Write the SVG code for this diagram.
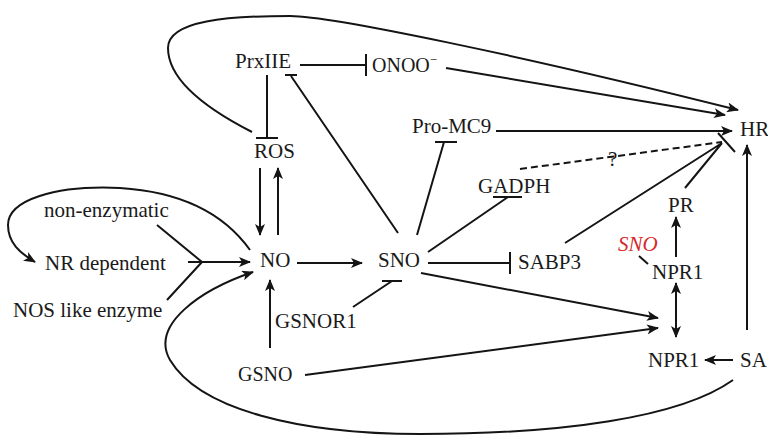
<svg xmlns="http://www.w3.org/2000/svg" width="768" height="437" viewBox="0 0 768 437">
<style>
text{font-family:"Liberation Serif","Times New Roman",serif;font-size:21px;fill:#1a1a1a}
.c{fill:none;stroke:#141414;stroke-width:2}
.a{marker-end:url(#arr)}
.i{marker-end:url(#bar)}
.d{stroke-dasharray:7 4}
</style>
<defs>
<marker id="arr" viewBox="0 0 12 10" refX="11" refY="5" markerWidth="12" markerHeight="10" orient="auto-start-reverse" markerUnits="userSpaceOnUse">
<path d="M0,0 L12,5 L0,10 L3,5 z" fill="#141414"/>
</marker>
<marker id="bar" viewBox="0 0 4 22" refX="2" refY="11" markerWidth="4" markerHeight="22" orient="auto" markerUnits="userSpaceOnUse">
<line x1="2" y1="0" x2="2" y2="22" stroke="#141414" stroke-width="2"/>
</marker>
</defs>
<rect width="768" height="437" fill="#fff"/>
<g id="connectors">
<path class="c a" d="M252,132 C205,108 168,80 168,48 C168,20 230,16 290,16 C330,16 520,55 738,110"/>
<path class="c i" d="M300,65 L366,65"/>
<path class="c i" d="M267,75 L267,138"/>
<path class="c" d="M398,233 L291,76 M285,75 L297,75"/>
<path class="c a" d="M446,68 L725,115"/>
<path class="c a" d="M496,131 L732,131"/>
<path class="c" d="M417,235 L444,142 M435,142 L457,142"/>
<path class="c" d="M428,252 L508,197 M493,197 L522,197"/>
<path class="c d" d="M520,169 L722,142"/>
<path class="c" d="M565,243 L722,143 M685,188 L722,143 M718,133 L735,152"/>
<path class="c i" d="M428,263 L510,263"/>
<path class="c a" d="M421,273 L658,318"/>
<path class="c a" d="M305,375 L658,328"/>
<path class="c a" d="M676,283 L676,337" marker-start="url(#arr)"/>
<path class="c a" d="M676,257 L676,217"/>
<path class="c" d="M639,256 L648,264"/>
<path class="c a" d="M747,330 L747,145"/>
<path class="c a" d="M733,360 L705,360"/>
<path class="c a" d="M733,380 C680,418 560,434 420,434 C300,434 200,410 170,360 C150,325 200,290 253,272"/>
<path class="c a" d="M297,263 L362,263"/>
<path class="c" d="M353,307 L392,281 M382,281 L402,281"/>
<path class="c a" d="M270,348 L270,280"/>
<path class="c a" d="M260,168 L260,235"/>
<path class="c a" d="M278,235 L278,168"/>
<path class="c a" d="M250,250 C225,215 185,192 120,188 C55,185 8,200 8,225 C8,243 20,253 35,262"/>
<path class="c" d="M157,225 L202,262 M188,262 L202,262 M167,300 L202,262"/>
<path class="c a" d="M202,262 L250,262"/>
</g>
<g id="PrxIIE"><text x="235" y="68">PrxIIE</text></g>
<g id="ONOO"><text x="372" y="72" style="font-size:20px">ONOO<tspan dy="-8" style="font-size:13px">−</tspan></text></g>
<g id="ProMC9"><text x="412" y="133">Pro-MC9</text></g>
<g id="HR"><text x="740" y="136">HR</text></g>
<g id="ROS"><text x="254" y="158">ROS</text></g>
<g id="GADPH"><text x="478" y="193">GADPH</text></g>
<g id="question"><text x="608" y="166">?</text></g>
<g id="PR"><text x="668" y="212">PR</text></g>
<g id="nonenzymatic"><text x="44" y="217">non-enzymatic</text></g>
<g id="NRdependent"><text x="45" y="270">NR dependent</text></g>
<g id="NOSlike"><text x="13" y="317">NOS like enzyme</text></g>
<g id="NO"><text x="260" y="267">NO</text></g>
<g id="SNO"><text x="378" y="267">SNO</text></g>
<g id="SABP3"><text x="518" y="269">SABP3</text></g>
<g id="SNOred"><text x="618" y="251" style="fill:#d42a2a;font-style:italic">SNO</text></g>
<g id="NPR1a"><text x="652" y="279">NPR1</text></g>
<g id="GSNOR1"><text x="275" y="328">GSNOR1</text></g>
<g id="GSNO"><text x="238" y="381" style="font-size:20px">GSNO</text></g>
<g id="NPR1b"><text x="648" y="367">NPR1</text></g>
<g id="SA"><text x="740" y="367">SA</text></g>
</svg>
